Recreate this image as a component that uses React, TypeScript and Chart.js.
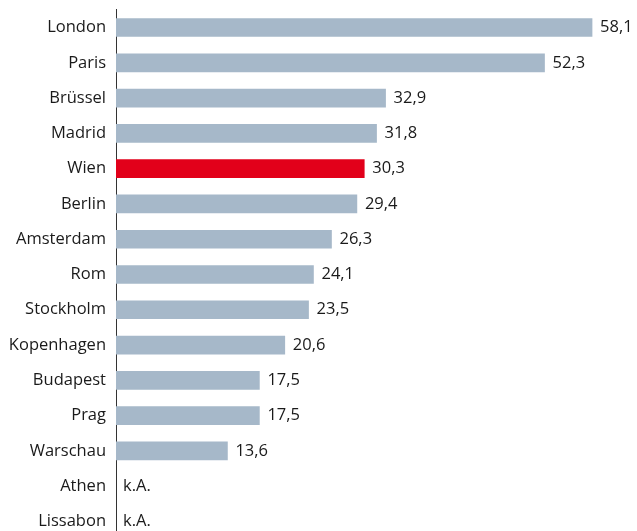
import React, { useEffect, useRef } from "react";
import { Chart, registerables } from "chart.js";

Chart.register(...registerables);

const categories = [
  "London", "Paris", "Brüssel", "Madrid", "Wien", "Berlin", "Amsterdam", "Rom",
  "Stockholm", "Kopenhagen", "Budapest", "Prag", "Warschau", "Athen", "Lissabon",
];
const values: (number | null)[] = [
  58.1, 52.3, 32.9, 31.8, 30.3, 29.4, 26.3, 24.1, 23.5, 20.6, 17.5, 17.5, 13.6, null, null,
];
const highlight = "Wien";
const missingLabel = "k.A.";

const BAR = "#a6b8c9";
const RED = "#e2001a";
const TEXT = "#1a1a1a";
const FONT = "'Open Sans', 'Noto Sans', sans-serif";
const FONT_SIZE = 16.5;

const fmt = (v: number) => v.toFixed(1).replace(".", ",");

const valueLabels = {
  id: "valueLabels",
  afterDatasetsDraw(chart: any) {
    const ctx = chart.ctx;
    const meta = chart.getDatasetMeta(0);
    const xScale = chart.scales.x;
    ctx.save();
    ctx.font = `${FONT_SIZE}px ${FONT}`;
    ctx.fillStyle = TEXT;
    ctx.textBaseline = "middle";
    ctx.textAlign = "left";
    meta.data.forEach((bar: any, i: number) => {
      const v = values[i];
      const y = bar.y;
      if (v == null) {
        ctx.fillText(missingLabel, xScale.getPixelForValue(0) + 7, y);
      } else {
        ctx.fillText(fmt(v), bar.x + 8, y);
      }
    });
    ctx.restore();
  },
};

export default function App() {
  const ref = useRef<HTMLCanvasElement | null>(null);
  useEffect(() => {
    document.body.style.margin = "0";
    const chart = new Chart(ref.current!, {
      type: "bar",
      data: {
        labels: categories,
        datasets: [
          {
            data: values as any,
            backgroundColor: categories.map((c) => (c === highlight ? RED : BAR)),
            barThickness: 18,
          },
        ],
      },
      options: {
        indexAxis: "y",
        animation: false,
        responsive: false,
        layout: { padding: { top: 8, bottom: 1, right: 13, left: 0 } },
        plugins: { legend: { display: false }, tooltip: { enabled: false } },
        scales: {
          x: {
            display: false,
            min: 0,
            max: 62,
          },
          y: {
            grid: { display: false, drawTicks: false },
            border: { display: true, color: "#333333", width: 1 },
            ticks: {
              color: TEXT,
              font: { family: FONT, size: FONT_SIZE },
              padding: 10,
            },
            afterFit(scale: any) {
              scale.width = 116;
            },
          },
        },
      },
      plugins: [valueLabels],
    });
    return () => chart.destroy();
  }, []);
  return (
    <div style={{ position: "absolute", left: 0, top: -10, width: 637, height: 569, overflow: "hidden" }}>
      <canvas ref={ref} width={637} height={569} />
    </div>
  );
}
